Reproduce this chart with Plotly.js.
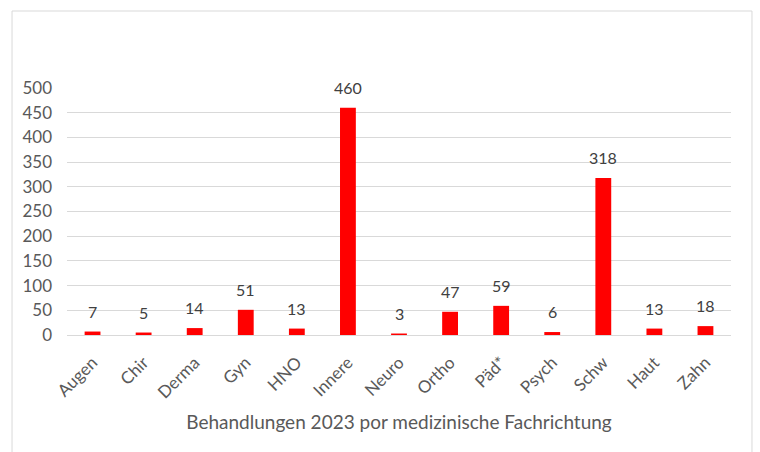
<!DOCTYPE html>
<html><head><meta charset="utf-8">
<script src="https://cdn.plot.ly/plotly-3.0.1.min.js"></script>
<style>html,body{margin:0;padding:0;background:#fff;}#c{width:760px;height:452px;}</style>
</head><body><div id="c"></div>
<script>
const categories = ["Augen","Chir","Derma","Gyn","HNO","Innere","Neuro","Ortho","Päd*","Psych","Schw","Haut","Zahn"];
const values = [7,5,14,51,13,460,3,47,59,6,318,13,18];
const yTicks = [0,50,100,150,200,250,300,350,400,450,500];
const xTitle = "Behandlungen 2023 por medizinische Fachrichtung";

const font = "Lato, 'Open Sans', sans-serif";
const trace = {
  type: "bar", x: categories, y: values,
  marker: {color: "#ff0000"},
  hoverinfo: "none"
};
const labels = categories.map((c, i) => ({
  x: c, y: values[i], xref: "x", yref: "y",
  text: String(values[i]), showarrow: false,
  yanchor: "bottom", yshift: 9,
  font: {family: font, size: 16, color: "#404040"}
}));
const layout = {
  width: 760, height: 452,
  margin: {l: 67, r: 29, t: 88, b: 117},
  paper_bgcolor: "#ffffff", plot_bgcolor: "#ffffff",
  bargap: 0.69, showlegend: false,
  font: {family: font, color: "#595959"},
  xaxis: {
    type: "category", tickangle: -45, tickfont: {size: 17, color: "#595959"},
    showgrid: false, showline: true, linecolor: "#d9d9d9", ticks: "",
    ticklabelstandoff: 10,
    title: {text: xTitle, font: {size: 19, color: "#595959"}, standoff: 14}
  },
  yaxis: {
    range: [0, 500], tickvals: yTicks, tickfont: {size: 17, color: "#595959"},
    showgrid: true, gridcolor: "#d9d9d9", gridwidth: 1, zeroline: false,
    ticks: "", showline: false, ticklabelstandoff: 14
  },
  annotations: labels,
  shapes: [{
    type: "rect", xref: "paper", yref: "paper",
    x0: -0.0828, x1: 1.0316, y0: -0.5, y1: 1.3117,
    line: {color: "#d9d9d9", width: 1}, fillcolor: "rgba(0,0,0,0)", layer: "below"
  }]
};
Plotly.newPlot("c", [trace], layout, {staticPlot: true, displayModeBar: false});
</script></body></html>
